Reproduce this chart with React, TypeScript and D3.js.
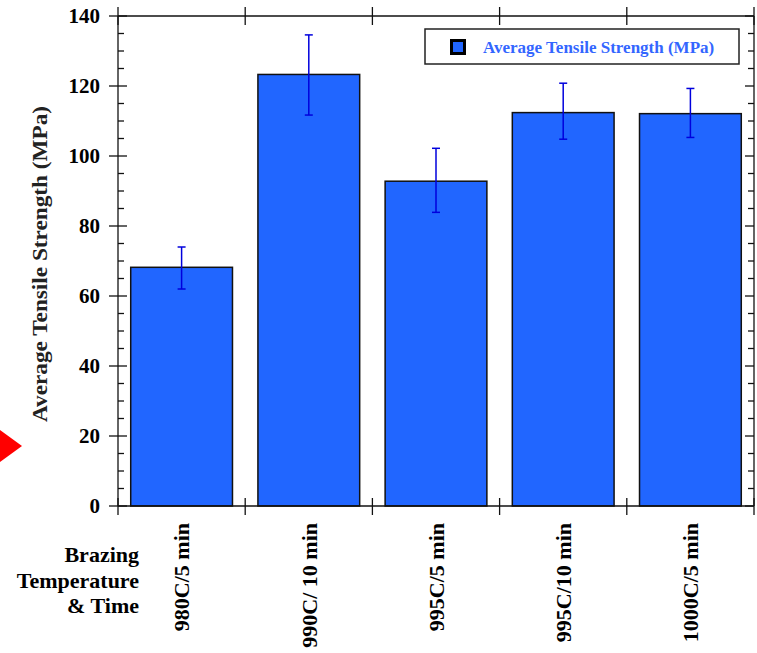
import React, { useRef, useEffect } from "react";
import * as d3 from "d3";

const categories = ["980C/5 min", "990C/ 10 min", "995C/5 min", "995C/10 min", "1000C/5 min"];
const strength = [68.2, 123.3, 92.8, 112.4, 112.1];
const errLow = [62, 111.7, 83.9, 104.8, 105.3];
const errHigh = [74, 134.6, 102.2, 120.8, 119.3];
const yTicks = [0, 20, 40, 60, 80, 100, 120, 140];
const xTitleLines = ["Brazing", "Temperature", "& Time"];

const FONT = "'Liberation Serif', 'Times New Roman', serif";
const BAR = "#2166ff";

const App = () => {
  const svgRef = useRef<SVGSVGElement>(null);

  useEffect(() => {
    const svg = d3.select(svgRef.current);
    svg.selectAll("*").remove();

    const left = 118, right = 754, top = 16, bottom = 506;

    const x = d3.scaleBand().domain(categories).range([left, right]).paddingInner(0.2).paddingOuter(0.1);
    const y = d3.scaleLinear().domain([0, 140]).range([bottom, top]);
    const step = x.step();
    const bounds = d3.range(categories.length + 1).map((i) => left + i * step);
    const minor = d3.range(0, 141, 5).filter((v) => v % 20 !== 0);

    // bars
    svg.append("g").selectAll("rect").data(strength).enter().append("rect")
      .attr("x", (d, i) => x(categories[i]))
      .attr("y", (d) => y(d))
      .attr("width", x.bandwidth())
      .attr("height", (d) => bottom - y(d))
      .attr("fill", BAR)
      .attr("stroke", "#111")
      .attr("stroke-width", 1.5);

    // error bars
    const eb = svg.append("g").attr("stroke", "#0000dd").attr("stroke-width", 1.5);
    categories.forEach((c, i) => {
      const cx = x(c) + x.bandwidth() / 2;
      eb.append("line").attr("x1", cx).attr("x2", cx).attr("y1", y(errLow[i])).attr("y2", y(errHigh[i]));
      [errLow[i], errHigh[i]].forEach((v) => {
        eb.append("line").attr("x1", cx - 4).attr("x2", cx + 4).attr("y1", y(v)).attr("y2", y(v));
      });
    });

    // frame + ticks
    const ax = svg.append("g").attr("stroke", "#111").attr("stroke-width", 1.3);
    ax.append("line").attr("x1", left).attr("x2", left).attr("y1", top).attr("y2", bottom);
    ax.append("line").attr("x1", right).attr("x2", right).attr("y1", top).attr("y2", bottom);
    ax.append("line").attr("x1", left).attr("x2", right).attr("y1", top).attr("y2", top);
    ax.append("line").attr("x1", left).attr("x2", right).attr("y1", bottom).attr("y2", bottom);
    yTicks.forEach((v) => {
      ax.append("line").attr("x1", left - 9).attr("x2", left + 9).attr("y1", y(v)).attr("y2", y(v));
      ax.append("line").attr("x1", right - 9).attr("x2", right).attr("y1", y(v)).attr("y2", y(v));
    });
    minor.forEach((v) => {
      ax.append("line").attr("x1", left).attr("x2", left + 6).attr("y1", y(v)).attr("y2", y(v));
      ax.append("line").attr("x1", right - 6).attr("x2", right).attr("y1", y(v)).attr("y2", y(v));
    });
    bounds.forEach((bx) => {
      ax.append("line").attr("x1", bx).attr("x2", bx).attr("y1", top - 9).attr("y2", top + 9);
      ax.append("line").attr("x1", bx).attr("x2", bx).attr("y1", bottom - 8).attr("y2", bottom + 9);
    });

    // y tick labels
    svg.append("g").selectAll("text").data(yTicks).enter().append("text")
      .attr("x", 100).attr("y", (d) => y(d)).attr("dy", "0.35em")
      .attr("text-anchor", "end")
      .style("font-family", FONT).style("font-weight", "bold").style("font-size", "21px")
      .text((d) => d);

    // y title
    svg.append("text")
      .attr("transform", "translate(40,264) rotate(-90)")
      .attr("dy", "0.35em").attr("text-anchor", "middle")
      .style("font-family", FONT).style("font-weight", "bold").style("font-size", "21px")
      .attr("textLength", 316).attr("lengthAdjust", "spacingAndGlyphs")
      .attr("fill", "#222")
      .text("Average Tensile Strength (MPa)");

    // category labels
    svg.append("g").selectAll("text").data(categories).enter().append("text")
      .attr("transform", (d) => `translate(${x(d) + x.bandwidth() / 2},523) rotate(-90)`)
      .attr("dy", "0.35em").attr("text-anchor", "end")
      .style("font-family", FONT).style("font-weight", "bold").style("font-size", "22px")
      .text((d) => d);

    // x title
    svg.append("g").selectAll("text").data(xTitleLines).enter().append("text")
      .attr("x", 139).attr("y", (d, i) => 562 + i * 25.5)
      .attr("text-anchor", "end")
      .style("font-family", FONT).style("font-weight", "bold").style("font-size", "22px")
      .text((d) => d);

    // legend
    const lg = svg.append("g");
    lg.append("rect").attr("x", 425).attr("y", 29).attr("width", 314).attr("height", 35)
      .attr("fill", "white").attr("stroke", "#222").attr("stroke-width", 1.5);
    lg.append("rect").attr("x", 451.5).attr("y", 40.5).attr("width", 13).attr("height", 13)
      .attr("fill", BAR).attr("stroke", "#000").attr("stroke-width", 3);
    lg.append("text").attr("x", 483).attr("y", 53)
      .style("font-family", FONT).style("font-weight", "bold").style("font-size", "17px")
      .attr("fill", "#3366ff")
      .text("Average Tensile Strength (MPa)");

    // red marker
    svg.append("polygon").attr("points", "0,430 22,446 0,462").attr("fill", "#ff0000");
  }, []);

  return (
    <svg ref={svgRef} width={757} height={653} style={{ position: "absolute", left: 0, top: 0 }}></svg>
  );
};

export default App;
